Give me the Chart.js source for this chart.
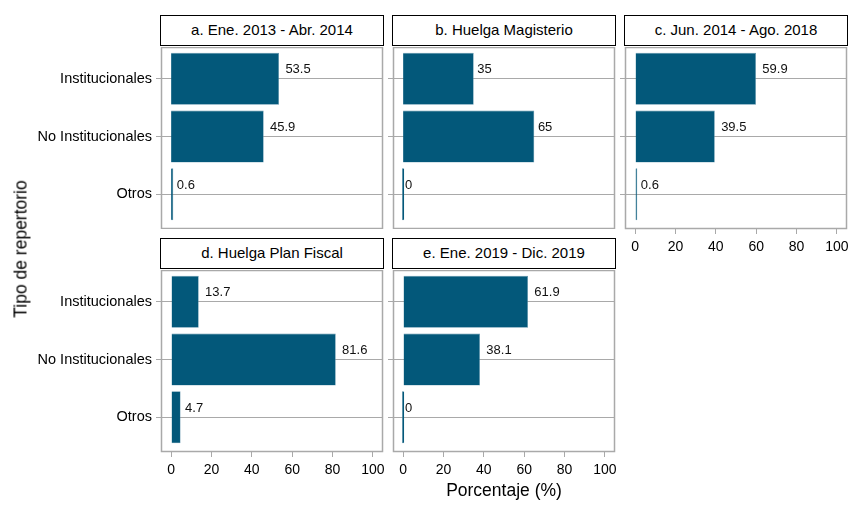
<!DOCTYPE html>
<html>
<head>
<meta charset="utf-8">
<script src="https://cdn.jsdelivr.net/npm/chart.js@4.4.1/dist/chart.umd.min.js"></script>
<style>
  html, body { margin: 0; padding: 0; background: #fff; }
  #wrap { position: relative; width: 863px; height: 513px; overflow: hidden; font-family: "Liberation Sans", Arial, sans-serif; }
  canvas { position: absolute; }
  .strip {
    position: absolute; box-sizing: border-box; border: 1.5px solid #000; background: #fff;
    font-size: 15px; color: #000; text-align: center; line-height: 28px;
  }
  .title { position: absolute; font-size: 17.5px; color: #000; white-space: nowrap; }
</style>
</head>
<body>
<div id="wrap"></div>
<script>
  const categories = ['Institucionales', 'No Institucionales', 'Otros'];
  const panelTitles = [
    'a. Ene. 2013 - Abr. 2014',
    'b. Huelga Magisterio',
    'c. Jun. 2014 - Ago. 2018',
    'd. Huelga Plan Fiscal',
    'e. Ene. 2019 - Dic. 2019',
  ];
  const valuesA = [53.5, 45.9, 0.6];
  const valuesB = [35, 65, 0];
  const valuesC = [59.9, 39.5, 0.6];
  const valuesD = [13.7, 81.6, 4.7];
  const valuesE = [61.9, 38.1, 0];
  const xTicks = [0, 20, 40, 60, 80, 100];

  const barColor = '#03587a';
  const frameColor = '#a9a9a9';
  const fontFamily = '"Liberation Sans", Arial, sans-serif';
  const wrap = document.getElementById('wrap');

  // panel bodies in page pixels
  const panels = [
    { values: valuesA, left: 161, top: 47, width: 222, height: 182, yLabels: true, xAxis: false, strip: [160, 15] },
    { values: valuesB, left: 393, top: 47, width: 222, height: 182, yLabels: false, xAxis: false, strip: [392, 15] },
    { values: valuesC, left: 625, top: 47, width: 222, height: 182, yLabels: false, xAxis: true, strip: [624, 15] },
    { values: valuesD, left: 161, top: 270, width: 222, height: 182, yLabels: true, xAxis: true, strip: [160, 238] },
    { values: valuesE, left: 393, top: 270, width: 222, height: 182, yLabels: false, xAxis: true, strip: [392, 238] },
  ];

  function noPadding(scale) {
    scale.paddingTop = 0;
    scale.paddingBottom = 0;
    scale.paddingLeft = 0;
    scale.paddingRight = 0;
  }

  const framePlugin = {
    id: 'frame',
    afterDraw(chart) {
      const { ctx, chartArea } = chart;
      ctx.save();
      ctx.strokeStyle = frameColor;
      ctx.lineWidth = 1.5;
      ctx.strokeRect(chartArea.left + 0.5, chartArea.top + 0.5, chartArea.width - 1, chartArea.height - 1);
      ctx.restore();
    },
  };

  const valueLabels = {
    id: 'valueLabels',
    afterDatasetsDraw(chart) {
      const { ctx } = chart;
      const meta = chart.getDatasetMeta(0);
      const data = chart.data.datasets[0].data;
      const xScale = chart.scales.x;
      ctx.save();
      ctx.font = '13px ' + fontFamily;
      ctx.fillStyle = '#111';
      ctx.textAlign = 'left';
      ctx.textBaseline = 'middle';
      meta.data.forEach((bar, i) => {
        const text = String(data[i].x);
        const w = ctx.measureText(text).width;
        ctx.fillText(text, xScale.getPixelForValue(data[i].x) + 0.25 * w, bar.y - 9);
      });
      ctx.restore();
    },
  };

  function buildPanel(p, idx) {
    const yw = p.yLabels ? p.left : 8;
    const xh = p.xAxis ? 30 : 0;
    const extra = 12; // room for the "100" label past the panel edge
    const canvas = document.createElement('canvas');
    canvas.style.left = (p.left - yw) + 'px';
    canvas.style.top = p.top + 'px';
    canvas.width = yw + p.width + extra;
    canvas.height = p.height + xh;
    wrap.appendChild(canvas);

    const strip = document.createElement('div');
    strip.className = 'strip';
    strip.style.left = p.strip[0] + 'px';
    strip.style.top = p.strip[1] + 'px';
    strip.style.width = '224px';
    strip.style.height = '31px';
    strip.textContent = panelTitles[idx];
    wrap.appendChild(strip);

    return new Chart(canvas, {
      type: 'bar',
      data: {
        datasets: [{
          data: p.values.map((v, i) => ({ x: v, y: i + 1 })),
          backgroundColor: barColor,
          borderColor: '#5f93ab',
          borderWidth: 0.6,
          minBarLength: 2.2,
          barPercentage: 0.9,
          categoryPercentage: 1,
        }],
      },
      options: {
        responsive: false,
        animation: false,
        indexAxis: 'y',
        layout: { padding: { left: 0, top: 0, bottom: 0, right: extra } },
        plugins: { legend: { display: false }, tooltip: { enabled: false } },
        scales: {
          x: {
            type: 'linear',
            min: -5,
            max: 105,
            offset: false,
            display: p.xAxis,
            afterBuildTicks(scale) { scale.ticks = xTicks.map((v) => ({ value: v })); },
            afterFit(scale) { scale.height = xh; noPadding(scale); },
            border: { display: false },
            grid: { drawOnChartArea: false, drawTicks: true, tickLength: 5, color: frameColor, lineWidth: 1 },
            ticks: { color: '#000', padding: 5, maxRotation: 0, font: { size: 14, family: fontFamily } },
          },
          y: {
            type: 'linear',
            reverse: true,
            min: 0.45,
            max: 3.6,
            offset: false,
            afterBuildTicks(scale) { scale.ticks = categories.map((c, i) => ({ value: i + 1 })); },
            afterFit(scale) { scale.width = yw; noPadding(scale); },
            border: { display: false },
            grid: { offset: false, drawOnChartArea: true, drawTicks: true, tickLength: 5, color: frameColor, lineWidth: 1 },
            ticks: {
              display: p.yLabels,
              color: '#000',
              padding: 4,
              font: { size: 14.5, family: fontFamily },
              callback: (v) => categories[v - 1] || '',
            },
          },
        },
      },
      plugins: [framePlugin, valueLabels],
    });
  }

  panels.forEach(buildPanel);

  const xTitle = document.createElement('div');
  xTitle.className = 'title';
  xTitle.textContent = 'Porcentaje (%)';
  xTitle.style.left = '504px';
  xTitle.style.top = '480px';
  xTitle.style.transform = 'translateX(-50%)';
  wrap.appendChild(xTitle);

  const yTitle = document.createElement('div');
  yTitle.className = 'title';
  yTitle.textContent = 'Tipo de repertorio';
  yTitle.style.left = '21px';
  yTitle.style.top = '249px';
  yTitle.style.transform = 'translate(-50%, -50%) rotate(-90deg)';
  wrap.appendChild(yTitle);
</script>
</body>
</html>
